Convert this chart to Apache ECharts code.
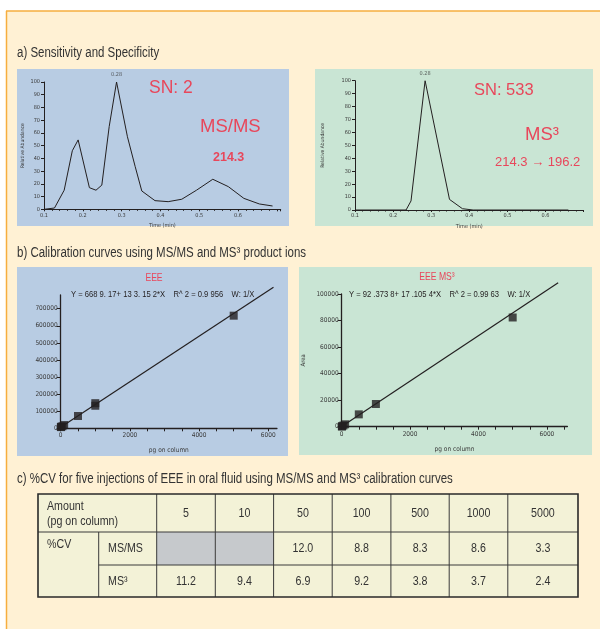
<!DOCTYPE html>
<html><head><meta charset="utf-8">
<script src="https://cdn.jsdelivr.net/npm/echarts@6/dist/echarts.min.js"></script>
<style>html,body{margin:0;padding:0;background:#fff}#c{width:600px;height:629px}</style>
</head><body><div id="c"></div>
<script>
// ---------- data ----------
// a) chromatograms
const msmsTime  = [0.100,0.127,0.152,0.173,0.188,0.217,0.234,0.249,0.268,0.287,0.315,0.335,0.352,0.386,0.420,0.455,0.493,0.535,0.575,0.615,0.655,0.689];
const msmsAbund = [0,1,15,46,54.5,17,15,19,65,100,57,33.5,14.4,6.8,6,7.9,15,23.6,17.8,8.6,4.2,2.6];
const ms3Time   = [0.100,0.234,0.247,0.284,0.348,0.382,0.410,0.660];
const ms3Abund  = [0,0,7,100,8.2,1,0,0];
const peakLabel = '0.28';
// b) calibration curves
const eeeAmount = [5,10,50,100,500,1000,1000,5000];
const eeeArea   = [7000,9000,12000,19000,72000,132000,147000,659000];
const eeeFitX   = [0,6150];
const eeeFitY   = [6700,825600];
const ms3Amount = [5,10,50,100,500,1000,5000];
const ms3Area   = [200,300,900,1800,9300,17100,82300];
const ms3FitX   = [0,6330];
const ms3FitY   = [92,108400];
// c) table
const tableAmounts = ['5','10','50','100','500','1000','5000'];
const cvMSMS = [null,null,'12.0','8.8','8.3','8.6','3.3'];
const cvMS3  = ['11.2','9.4','6.9','9.2','3.8','3.7','2.4'];

// ---------- styling ----------
const NARROW = "'DejaVu Sans Condensed','Liberation Sans Narrow',sans-serif";
const SANS = "'Liberation Sans',Arial,sans-serif";
const NX = 0.82; // horizontal squeeze to emulate a narrow face
const INK = '#231F20';
const RED = '#E8475B';
const LBL = '#3a3a3a';

const chart = echarts.init(document.getElementById('c'), null, {renderer:'canvas'});

function pairs(xs, ys){ return xs.map((x,i)=>[x, ys[i]]); }

function chromX(gi, max){
  return {gridIndex:gi, type:'value', min:0.1, max:max, interval:0.1, z:10,
    name:'Time (min)', nameLocation:'middle', nameGap:13.5,
    nameTextStyle:{fontSize:5.5, color:LBL, fontFamily:NARROW},
    axisLine:{onZero:false, lineStyle:{color:INK, width:1}},
    axisTick:{length:2, lineStyle:{color:INK}},
    minorTick:{show:true, splitNumber:5, length:1.5, lineStyle:{color:INK}},
    axisLabel:{fontSize:5.5, color:LBL, margin:3, fontFamily:NARROW, showMaxLabel:false,
      formatter:v => v>0.65 ? '' : v.toFixed(1)},
    splitLine:{show:false}};
}
function chromY(gi, gap){
  return {gridIndex:gi, type:'value', min:0, max:100, interval:10, z:10,
    name:'Relative Abundance', nameLocation:'middle', nameGap:gap, nameRotate:90,
    nameTextStyle:{fontSize:5, color:LBL, fontFamily:NARROW},
    axisLine:{show:true, lineStyle:{color:INK, width:1}},
    axisTick:{show:true, length:3, lineStyle:{color:INK}},
    axisLabel:{fontSize:5.5, color:LBL, margin:4, fontFamily:NARROW},
    splitLine:{show:false}};
}
function calX(gi, max){
  return {gridIndex:gi, type:'value', min:0, max:max, interval:500, z:10,
    name:'pg on column', nameLocation:'middle', nameGap:19,
    nameTextStyle:{fontSize:6.5, color:LBL, fontFamily:NARROW},
    axisLine:{onZero:false, lineStyle:{color:INK, width:1.3}},
    axisTick:{length:3, lineStyle:{color:INK, width:1}},
    axisLabel:{fontSize:6.5, color:LBL, margin:4, fontFamily:NARROW, showMaxLabel:false,
      formatter:v => (v%2000===0 && v<=6000) ? String(v) : ''},
    splitLine:{show:false}};
}
function calY(gi, max, interval, top, name){
  return {gridIndex:gi, type:'value', min:0, max:max, interval:interval, z:10,
    name:name, nameLocation:'middle', nameGap:35, nameRotate:90,
    nameTextStyle:{fontSize:6, color:LBL, fontFamily:NARROW},
    axisLine:{show:true, lineStyle:{color:INK, width:1.3}},
    axisTick:{show:true, length:4, lineStyle:{color:INK}},
    axisLabel:{fontSize:6.5, color:LBL, margin:3, fontFamily:NARROW, showMaxLabel:max===top,
      formatter:v => v<=top ? String(v) : ''},
    splitLine:{show:false}};
}

// ---------- graphic: panels, headings, annotations, table ----------
const g = [];
g.push({type:'rect', z:0, shape:{x:6, y:11, width:594, height:618}, style:{fill:'#FFF1D4'}});
g.push({type:'line', z:1, shape:{x1:6, y1:11, x2:600, y2:11}, style:{stroke:'#F6AE3F', lineWidth:1.5}});
g.push({type:'line', z:1, shape:{x1:6.5, y1:11, x2:6.5, y2:629}, style:{stroke:'#F6AE3F', lineWidth:1.5}});
g.push({type:'rect', z:1, shape:{x:17, y:69, width:272, height:157}, style:{fill:'#B8CCE3'}});
g.push({type:'rect', z:1, shape:{x:315, y:69, width:278, height:157}, style:{fill:'#C9E5D4'}});
g.push({type:'rect', z:1, shape:{x:17, y:267, width:271, height:189}, style:{fill:'#B8CCE3'}});
g.push({type:'rect', z:1, shape:{x:299, y:267, width:293, height:188}, style:{fill:'#C9E5D4'}});

function txt(x, y, s, size, color, family, extra, sx){
  return {type:'text', z:20, x:x, y:y, scaleX:(sx===undefined?1:sx),
    style:Object.assign({text:s, fontSize:size, fill:color, fontFamily:family, textVerticalAlign:'middle', textAlign:'left'}, extra||{})};
}
function ntxt(x, y, s, size, color, extra){ return txt(x, y, s, size, color, SANS, extra, NX); }

g.push(ntxt(17, 53, 'a) Sensitivity and Specificity', 14, '#333'));
g.push(ntxt(17, 253, 'b) Calibration curves using MS/MS and MS\u00B3 product ions', 14, '#333'));
g.push(ntxt(17, 479, 'c) %CV for five injections of EEE in oral fluid using MS/MS and MS\u00B3 calibration curves', 14, '#333'));

g.push(txt(149, 88.5, 'SN: 2', 17.5, RED, SANS));
g.push(txt(200, 127, 'MS/MS', 18.5, RED, SANS));
g.push(txt(213, 157.5, '214.3', 12.5, RED, SANS, {fontWeight:'bold'}));
g.push(txt(474, 90.5, 'SN: 533', 16.5, RED, SANS));
g.push(txt(525, 134.5, 'MS\u00B3', 18.5, RED, SANS));
g.push(txt(495, 162, '214.3 \u2192 196.2', 13, RED, SANS));

g.push(ntxt(154, 278, 'EEE', 10.5, RED, {textAlign:'center'}));
g.push(ntxt(437, 277, 'EEE MS\u00B3', 10.5, RED, {textAlign:'center'}));
g.push(ntxt(71, 294, 'Y = 668 9. 17+ 13 3. 15 2*X    R^ 2 = 0.9 956    W: 1/X', 9.3, INK));
g.push(ntxt(349, 294.5, 'Y = 92 .373 8+ 17 .105 4*X    R^ 2 = 0.99 63    W: 1/X', 9.3, INK));

// table
const colX = [38, 98.7, 156.7, 215.3, 273.6, 332.2, 390.9, 449.2, 507.8, 578];
const rowY = [494, 532, 565, 597];
g.push({type:'rect', z:2, shape:{x:colX[0], y:rowY[0], width:colX[9]-colX[0], height:rowY[3]-rowY[0]}, style:{fill:'#F3F2D7'}});
cvMSMS.forEach((v,i)=>{
  if (v===null) g.push({type:'rect', z:3, shape:{x:colX[i+2], y:rowY[1], width:colX[i+3]-colX[i+2], height:rowY[2]-rowY[1]}, style:{fill:'#C6C9CC'}});
});
const TL = {stroke:'#3a3a3a', lineWidth:1};
g.push({type:'line', z:4, shape:{x1:colX[0], y1:rowY[1], x2:colX[9], y2:rowY[1]}, style:TL});
g.push({type:'line', z:4, shape:{x1:colX[1], y1:rowY[2], x2:colX[9], y2:rowY[2]}, style:TL});
g.push({type:'line', z:4, shape:{x1:colX[1], y1:rowY[1], x2:colX[1], y2:rowY[3]}, style:TL});
for (let k=2;k<=8;k++) g.push({type:'line', z:4, shape:{x1:colX[k], y1:rowY[0], x2:colX[k], y2:rowY[3]}, style:TL});
g.push({type:'rect', z:5, shape:{x:colX[0], y:rowY[0], width:colX[9]-colX[0], height:rowY[3]-rowY[0]}, style:{fill:null, stroke:'#2a2a2a', lineWidth:1.6}});
const TF = 13, TC = '#333';
g.push(ntxt(47, 506, 'Amount', TF, TC));
g.push(ntxt(47, 521, '(pg on column)', TF, TC));
g.push(ntxt(47, 544, '%CV', TF, TC));
g.push(ntxt(108, 548, 'MS/MS', TF, TC));
g.push(ntxt(108, 581, 'MS\u00B3', TF, TC));
tableAmounts.forEach((a,i)=>{
  const cx = (colX[i+2]+colX[i+3])/2;
  g.push(ntxt(cx, 513, a, TF, TC, {textAlign:'center'}));
  if (cvMSMS[i]!==null) g.push(ntxt(cx, 548, cvMSMS[i], TF, TC, {textAlign:'center'}));
  g.push(ntxt(cx, 581, cvMS3[i], TF, TC, {textAlign:'center'}));
});

function peakPoint(xs, ys){
  const i = ys.indexOf(Math.max(...ys));
  return [[xs[i], ys[i]]];
}

const option = {
  backgroundColor:'#ffffff',
  animation:false,
  graphic:{elements:g},
  grid:[
    {left:44, top:82, width:236.7, height:127.3},
    {left:355, top:80.7, width:228.6, height:129.3},
    {left:60.7, top:295, width:216.25, height:133.3},
    {left:341.7, top:294, width:225.7, height:132.7}
  ],
  xAxis:[chromX(0,0.71), chromX(1,0.7), calX(2,6250), calX(3,6600)],
  yAxis:[chromY(0,19), chromY(1,30),
         calY(2,780000,100000,700000,''), calY(3,100000,20000,100000,'Area')],
  series:[
    {type:'line', xAxisIndex:0, yAxisIndex:0, data:pairs(msmsTime, msmsAbund), symbol:'none', z:11,
      lineStyle:{color:INK, width:1}},
    {type:'scatter', xAxisIndex:0, yAxisIndex:0, data:peakPoint(msmsTime, msmsAbund), symbolSize:0, z:12,
      itemStyle:{color:'rgba(0,0,0,0)'},
      label:{show:true, position:'top', distance:4, formatter:peakLabel, fontSize:5.5, color:LBL, fontFamily:NARROW}},
    {type:'line', xAxisIndex:1, yAxisIndex:1, data:pairs(ms3Time, ms3Abund), symbol:'none', z:11,
      lineStyle:{color:INK, width:1}},
    {type:'scatter', xAxisIndex:1, yAxisIndex:1, data:peakPoint(ms3Time, ms3Abund), symbolSize:0, z:12,
      itemStyle:{color:'rgba(0,0,0,0)'},
      label:{show:true, position:'top', distance:4, formatter:peakLabel, fontSize:5.5, color:LBL, fontFamily:NARROW}},
    {type:'line', xAxisIndex:2, yAxisIndex:2, data:pairs(eeeFitX, eeeFitY), symbol:'none', clip:false, z:11,
      lineStyle:{color:INK, width:1.2}},
    {type:'scatter', xAxisIndex:2, yAxisIndex:2, data:pairs(eeeAmount, eeeArea), symbol:'rect', symbolSize:8, clip:false, z:12,
      itemStyle:{color:INK}},
    {type:'line', xAxisIndex:3, yAxisIndex:3, data:pairs(ms3FitX, ms3FitY), symbol:'none', clip:false, z:11,
      lineStyle:{color:INK, width:1.2}},
    {type:'scatter', xAxisIndex:3, yAxisIndex:3, data:pairs(ms3Amount, ms3Area), symbol:'rect', symbolSize:8, clip:false, z:12,
      itemStyle:{color:INK}}
  ]
};
chart.setOption(option);
</script>
</body></html>
